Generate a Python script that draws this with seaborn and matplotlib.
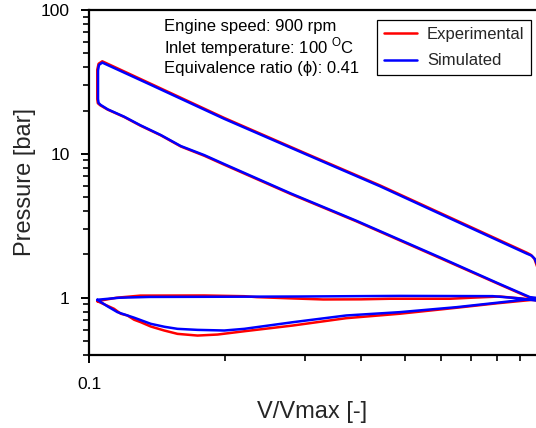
import matplotlib
matplotlib.use("Agg")
import matplotlib.pyplot as plt
from matplotlib.ticker import LogLocator, NullFormatter
import numpy as np
import pandas as pd
import seaborn as sns

# Normalised cylinder volume and pressure [bar] around one closed cycle,
# listed in cycle order: intake -> compression -> combustion -> expansion -> exhaust
sim_volume = [
    0.1043, 0.1100, 0.1156, 0.1260, 0.1370, 0.1470, 0.1570, 0.1739, 0.1993, 0.2207,
    0.2825, 0.3710, 0.4870, 0.6510, 0.8000, 0.9620, 1.0000,
    0.9460, 0.8000, 0.6000, 0.3905, 0.2800, 0.1993, 0.1800, 0.1597, 0.1442, 0.1300,
    0.1196, 0.1100, 0.1061,
    0.1050, 0.1047, 0.1047, 0.1052, 0.1070,
    0.1370, 0.1994, 0.3000, 0.4400, 0.6500, 0.9300, 0.9550, 0.9700, 0.9900, 1.0000,
    0.9760, 0.8990, 0.7830, 0.4870, 0.2923, 0.1755, 0.1359, 0.1166, 0.1043,
]
sim_pressure = [
    0.968, 0.870, 0.794, 0.726, 0.659, 0.628, 0.608, 0.598, 0.592, 0.608,
    0.676, 0.753, 0.794, 0.860, 0.923, 0.984, 0.990,
    1.010, 1.270, 1.900, 3.430, 5.300, 8.490, 9.800, 11.330, 13.520, 15.800,
    18.140, 20.400, 21.900,
    22.600, 24.000, 38.000, 41.500, 43.100,
    30.200, 17.500, 10.030, 5.970, 3.400, 2.030, 1.960, 1.860, 1.600, 1.100,
    0.957, 0.989, 1.026, 1.030, 1.020, 1.015, 1.013, 1.000, 0.968,
]

exp_volume = [
    0.1043, 0.1136, 0.1176, 0.1216, 0.1259, 0.1302, 0.1370, 0.1467, 0.1570, 0.1739,
    0.1926, 0.2207, 0.2825, 0.3710, 0.4870, 0.6510, 0.8000, 0.9620, 1.0000,
    0.9460, 0.8000, 0.6000, 0.3905, 0.2800, 0.1993, 0.1800, 0.1597, 0.1442, 0.1300,
    0.1196, 0.1100, 0.1058,
    0.1046, 0.1043, 0.1043, 0.1050, 0.1070,
    0.1370, 0.1994, 0.3000, 0.4400, 0.6500, 0.9300, 0.9500, 0.9680, 0.9880, 1.0000,
    0.9760, 0.9000, 0.8120, 0.7000, 0.6300, 0.4635, 0.4000, 0.3300, 0.2800, 0.2350,
    0.2207, 0.1800, 0.1300, 0.1150, 0.1043,
]
exp_pressure = [
    0.947, 0.838, 0.774, 0.753, 0.703, 0.676, 0.631, 0.592, 0.561, 0.546,
    0.555, 0.585, 0.641, 0.721, 0.774, 0.852, 0.915, 0.968, 0.975,
    1.000, 1.260, 1.880, 3.400, 5.250, 8.400, 9.700, 11.250, 13.450, 15.700,
    18.050, 20.300, 21.800,
    22.500, 24.000, 38.500, 42.300, 44.000,
    30.700, 17.750, 10.150, 6.050, 3.450, 2.060, 1.990, 1.870, 1.550, 1.050,
    0.960, 0.990, 1.020, 1.000, 0.984, 0.984, 0.975, 0.973, 0.990, 1.010,
    1.025, 1.037, 1.035, 1.000, 0.947,
]

series_names = ["Experimental", "Simulated"]
series_colors = ["#ff0000", "#0000ff"]

y_ticks = [1, 10, 100]
y_tick_labels = ["1", "10", "100"]
x_ticks = [0.1]
x_tick_labels = ["0.1"]

info_lines = [
    "Engine speed: 900 rpm",
    "Inlet temperature: 100 $^{\\mathregular{O}}$C",
    "Equivalence ratio (\u03d5): 0.41",
]

cycle = pd.concat([
    pd.DataFrame({"V": exp_volume, "P": exp_pressure, "series": series_names[0]}),
    pd.DataFrame({"V": sim_volume, "P": sim_pressure, "series": series_names[1]}),
], ignore_index=True)

sns.set_style("ticks")
plt.rcParams["font.family"] = ["Liberation Sans", "DejaVu Sans"]

W, H = 536, 428
fig = plt.figure(figsize=(W / 100, H / 100), dpi=100)
ax = fig.add_axes([89 / W, (H - 355) / H, (W - 89) / W, (355 - 10) / H])

sns.lineplot(
    data=cycle, x="V", y="P", hue="series", hue_order=series_names,
    palette=dict(zip(series_names, series_colors)), sort=False,
    estimator=None, units="series", linewidth=1.8, ax=ax, legend=True,
)

ax.set_xscale("log")
ax.set_yscale("log")
ax.set_xlim(0.1, 0.976)
ax.set_ylim(0.4, 100)

ax.set_xticks(x_ticks, labels=x_tick_labels)
ax.set_yticks(y_ticks, labels=y_tick_labels)
ax.xaxis.set_minor_locator(LogLocator(base=10, subs=np.arange(2, 10)))
ax.yaxis.set_minor_locator(LogLocator(base=10, subs=np.arange(2, 10)))
ax.xaxis.set_minor_formatter(NullFormatter())
ax.yaxis.set_minor_formatter(NullFormatter())

ax.tick_params(which="major", direction="out", length=6, width=1.4,
               labelsize=12.5, color="black", labelcolor="black")
ax.tick_params(axis="x", which="major", pad=10)
ax.tick_params(axis="y", which="major", pad=8)
ax.tick_params(which="minor", direction="out", length=4, width=1.2, color="black")

for side in ["left", "bottom", "top"]:
    ax.spines[side].set_linewidth(1.6)
    ax.spines[side].set_color("black")
ax.spines["right"].set_visible(False)

ax.set_xlabel("V/Vmax [-]", fontsize=17, labelpad=6)
ax.set_ylabel("Pressure [bar]", fontsize=17, labelpad=3)

ax.legend(
    title=None, loc="upper right", bbox_to_anchor=(531 / W, 1 - 20 / H),
    bbox_transform=fig.transFigure, fontsize=12, frameon=True, fancybox=False,
    edgecolor="black", framealpha=1, handlelength=2.0, handletextpad=0.6,
    labelspacing=0.7, borderpad=0.4, borderaxespad=0,
)
ax.get_legend().get_frame().set_linewidth(0.9)

for i, line in enumerate(info_lines):
    fig.text(164 / W, 1 - (26 + 21 * i) / H, line, fontsize=12, va="center",
             ha="left", color="black")

fig.savefig("out.png", dpi=100)
